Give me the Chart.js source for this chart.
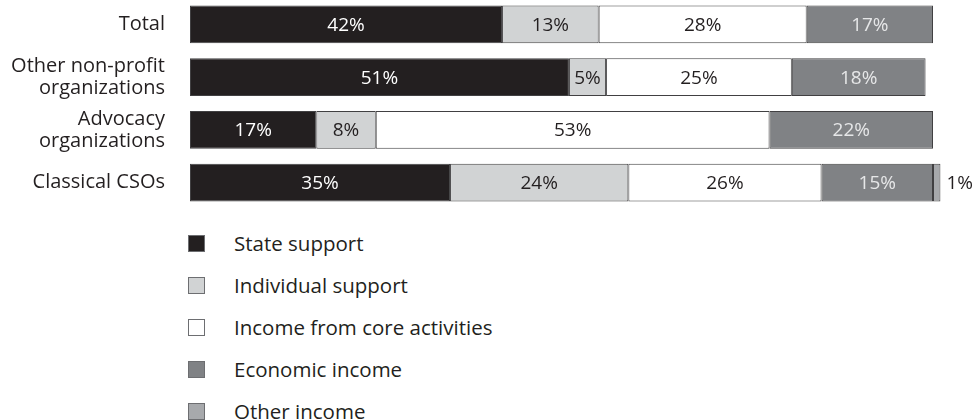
<!DOCTYPE html>
<html>
<head>
<meta charset="utf-8">
<script src="https://cdn.jsdelivr.net/npm/chart.js@4.4.1/dist/chart.umd.min.js"></script>
<style>
  html, body { margin: 0; padding: 0; background: #ffffff; }
  body { width: 980px; height: 420px; position: relative; overflow: hidden; font-family: "Open Sans", "Noto Sans", sans-serif; }
  #wrap { position: absolute; left: 0; top: -3px; width: 980px; height: 212px; }
  #legend { position: absolute; left: 188px; top: 222px; margin: 0; padding: 0; list-style: none; }
  #legend li { height: 42px; display: flex; align-items: center; font-size: 20.5px; color: #231f20; }
  #legend .box { width: 17px; height: 17px; box-sizing: border-box; border: 1px solid #6d6e71; margin-right: 29px; }
</style>
</head>
<body>
<div id="wrap"><canvas id="c"></canvas></div>
<ul id="legend"></ul>
<script>
const categories = ['Total', ['Other non-profit', 'organizations'], ['Advocacy', 'organizations'], 'Classical CSOs'];
const seriesNames = ['State support', 'Individual support', 'Income from core activities', 'Economic income', 'Other income'];
const stateSupport = [42, 51, 17, 35];
const individualSupport = [13, 5, 8, 24];
const coreActivities = [28, 25, 53, 26];
const economicIncome = [17, 18, 22, 15];
const otherIncome = [null, null, null, 1];

const fills = ['#231f20', '#d1d3d4', '#ffffff', '#808285', '#a7a9ac'];
const labelColors = ['#ffffff', '#231f20', '#231f20', '#e6e7e8', '#231f20'];
const values = [stateSupport, individualSupport, coreActivities, economicIncome, otherIncome];

const FONT = '"Open Sans", "Noto Sans", sans-serif';

const valueLabels = {
  id: 'valueLabels',
  afterDatasetsDraw(chart) {
    const ctx = chart.ctx;
    ctx.save();
    ctx.font = '19px ' + FONT;
    ctx.textBaseline = 'middle';
    chart.data.datasets.forEach((ds, di) => {
      const meta = chart.getDatasetMeta(di);
      meta.data.forEach((el, i) => {
        const v = ds.data[i];
        if (v === null || v === undefined) return;
        const p = el.getProps(['x', 'y', 'base'], true);
        const w = Math.abs(p.x - p.base);
        const txt = v + '%';
        if (w < 20) {
          ctx.fillStyle = '#231f20';
          ctx.textAlign = 'left';
          ctx.fillText(txt, Math.max(p.x, p.base) + 6, p.y + 1);
        } else {
          ctx.fillStyle = labelColors[di];
          ctx.textAlign = 'center';
          ctx.fillText(txt, (p.x + p.base) / 2, p.y + 1);
        }
      });
    });
    ctx.restore();
  }
};

const chart = new Chart(document.getElementById('c'), {
  type: 'bar',
  data: {
    labels: categories,
    datasets: seriesNames.map((name, k) => ({
      label: name,
      data: values[k],
      backgroundColor: fills[k],
      borderColor: '#414042',
      borderWidth: 1,
      borderSkipped: false,
      barPercentage: 0.72,
      categoryPercentage: 1,
      clip: false
    }))
  },
  options: {
    indexAxis: 'y',
    responsive: true,
    maintainAspectRatio: false,
    animation: false,
    layout: { padding: { top: 1, right: 47, bottom: 0, left: 0 } },
    plugins: {
      legend: { display: false },
      tooltip: { enabled: false }
    },
    scales: {
      x: {
        stacked: true,
        min: 0,
        max: 100,
        display: false
      },
      y: {
        stacked: true,
        grid: { display: false, drawTicks: false },
        border: { display: false },
        ticks: {
          color: '#231f20',
          font: { family: FONT, size: 20, lineHeight: 1.1 },
          padding: 25
        },
        afterFit(scale) {
          scale.width = 190;
          scale.paddingTop = 0;
          scale.paddingBottom = 0;
        }
      }
    }
  },
  plugins: [valueLabels]
});

const legend = document.getElementById('legend');
chart.data.datasets.forEach(ds => {
  const li = document.createElement('li');
  const box = document.createElement('span');
  box.className = 'box';
  box.style.background = ds.backgroundColor;
  li.appendChild(box);
  li.appendChild(document.createTextNode(ds.label));
  legend.appendChild(li);
});
</script>
</body>
</html>
